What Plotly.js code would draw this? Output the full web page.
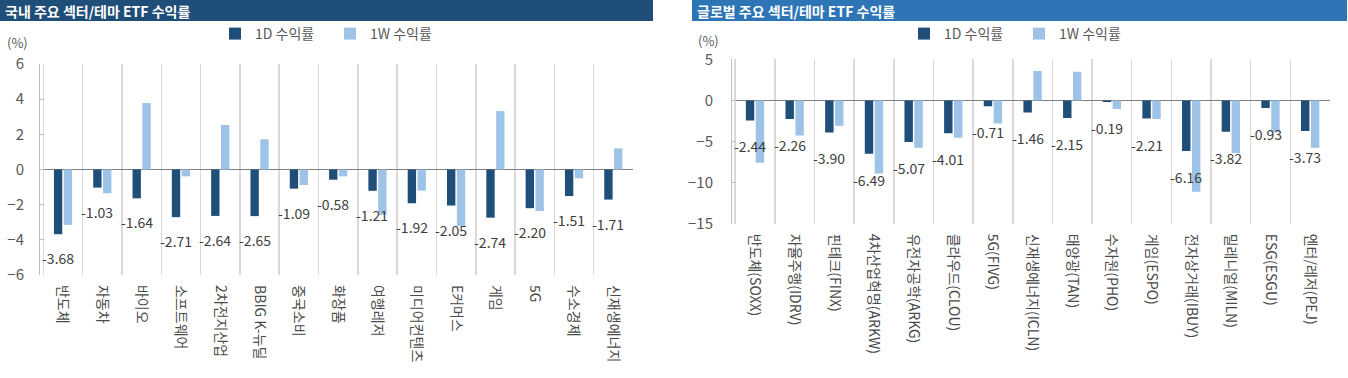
<!DOCTYPE html>
<html><head><meta charset="utf-8">
<script src="https://cdn.plot.ly/plotly-3.0.1.min.js"></script>
<style>html,body{margin:0;padding:0;background:#fff;} #chart{width:1348px;height:378px;}</style>
</head><body><div id="chart"></div>
<script>
// ---- data ----
const domCategories = ['반도체','자동차','바이오','소프트웨어','2차전지산업','BBIG K-뉴딜','중국소비','화장품','여행레저','미디어컨텐츠','E커머스','게임','5G','수소경제','신재생에너지'];
const dom1D = [-3.68,-1.03,-1.64,-2.71,-2.64,-2.65,-1.09,-0.58,-1.21,-1.92,-2.05,-2.74,-2.20,-1.51,-1.71];
const dom1W = [-3.15,-1.35,3.78,-0.39,2.53,1.72,-0.88,-0.39,-2.58,-1.20,-3.21,3.32,-2.36,-0.50,1.20];

const globCategories = ['반도체(SOXX)','자율주행(IDRV)','핀테크(FINX)','4차산업혁명(ARKW)','유전자공학(ARKG)','클라우드(CLOU)','5G(FIVG)','신재생에너지(ICLN)','태양광(TAN)','수자원(PHO)','게임(ESPO)','전자상거래(IBUY)','밀레니얼(MILN)','ESG(ESGU)','엔터/레저(PEJ)'];
const glob1D = [-2.44,-2.26,-3.90,-6.49,-5.07,-4.01,-0.71,-1.46,-2.15,-0.19,-2.21,-6.16,-3.82,-0.93,-3.73];
const glob1W = [-7.60,-4.26,-3.08,-8.90,-5.76,-4.54,-2.80,3.57,3.49,-1.06,-2.27,-11.10,-6.40,-3.90,-5.75];

const seriesNames = ['1D 수익률','1W 수익률'];
const titles = ['국내 주요 섹터/테마 ETF 수익률','글로벌 주요 섹터/테마 ETF 수익률'];
const unitLabel = '(%)';

// ---- layout helpers ----
const W = 1348, H = 378;
const px = x => x / W;
const py = y => 1 - y / H;
const NUMFONT = '"Liberation Sans Narrow", "Noto Sans CJK KR", sans-serif';
const KFONT = '"Noto Sans CJK KR", sans-serif';
const C1 = '#1F4E79', C2 = '#9DC3E6';
const GRAY = '#595959';

const traces = [
  {type:'bar', x:domCategories, y:dom1D, name:seriesNames[0], marker:{color:C1}, xaxis:'x', yaxis:'y', legend:'legend'},
  {type:'bar', x:domCategories, y:dom1W, name:seriesNames[1], marker:{color:C2}, xaxis:'x', yaxis:'y', legend:'legend'},
  {type:'bar', x:globCategories, y:glob1D, name:seriesNames[0], marker:{color:C1}, xaxis:'x2', yaxis:'y2', legend:'legend2'},
  {type:'bar', x:globCategories, y:glob1W, name:seriesNames[1], marker:{color:C2}, xaxis:'x2', yaxis:'y2', legend:'legend2'}
];

const xCommon = {type:'category', tickson:'boundaries', showgrid:true, gridcolor:'#D9D9D9', gridwidth:1.5,
  ticks:'', tickangle:90, tickfont:{family:NUMFONT, size:14, color:'#4A4A4A'}, showline:false, zeroline:false,
  fixedrange:true, automargin:false, ticklabelstandoff:9};
const yCommon = {showline:true, linecolor:'#BFBFBF', linewidth:1, ticks:'inside', ticklen:4, tickcolor:'#BFBFBF',
  showgrid:false, zeroline:true, zerolinecolor:'#808080', zerolinewidth:1.5,
  tickfont:{family:NUMFONT, size:15, color:GRAY}, fixedrange:true, automargin:false};

const annotations = [];
domCategories.forEach((c, i) => annotations.push({x:c, y:dom1D[i], xref:'x', yref:'y', text:dom1D[i].toFixed(2),
  showarrow:false, xshift:-5, yshift:-24, font:{family:NUMFONT, size:14, color:'#404040'}}));
globCategories.forEach((c, i) => annotations.push({x:c, y:glob1D[i], xref:'x2', yref:'y2', text:glob1D[i].toFixed(2),
  showarrow:false, xshift:-5, yshift:-26, font:{family:NUMFONT, size:14, color:'#404040'}}));

annotations.push({xref:'paper', yref:'paper', x:px(3), y:py(10.5), xanchor:'left', yanchor:'middle', showarrow:false,
  text:'<b>'+titles[0]+'</b>', font:{family:KFONT, size:14, color:'#FFFFFF'}});
annotations.push({xref:'paper', yref:'paper', x:px(695), y:py(10.5), xanchor:'left', yanchor:'middle', showarrow:false,
  text:'<b>'+titles[1]+'</b>', font:{family:KFONT, size:14, color:'#FFFFFF'}});
annotations.push({xref:'paper', yref:'paper', x:px(5), y:py(42), xanchor:'left', yanchor:'middle', showarrow:false,
  text:unitLabel, font:{family:KFONT, size:13, color:GRAY}});
annotations.push({xref:'paper', yref:'paper', x:px(696), y:py(40), xanchor:'left', yanchor:'middle', showarrow:false,
  text:unitLabel, font:{family:KFONT, size:13, color:GRAY}});

const legendCommon = {orientation:'h', xanchor:'center', yanchor:'middle', y:py(34),
  font:{family:KFONT, size:14, color:GRAY}, itemwidth:30, entrywidth:70, bgcolor:'rgba(0,0,0,0)', traceorder:'normal'};

const layout = {
  width:W, height:H, margin:{l:0, r:0, t:0, b:0},
  paper_bgcolor:'#FFFFFF', plot_bgcolor:'#FFFFFF',
  barmode:'group', bargap:0.5, bargroupgap:0.15,
  showlegend:true,
  legend:Object.assign({}, legendCommon, {x:px(330)}),
  legend2:Object.assign({}, legendCommon, {x:px(1019)}),
  xaxis:Object.assign({}, xCommon, {domain:[px(40), px(633)], anchor:'y'}),
  xaxis2:Object.assign({}, xCommon, {domain:[px(732), px(1330)], anchor:'y2'}),
  yaxis:Object.assign({}, yCommon, {domain:[py(275), py(64)], range:[-6, 6], dtick:2, anchor:'x', ticklabelstandoff:12}),
  yaxis2:Object.assign({}, yCommon, {domain:[py(223.7), py(59.3)], range:[-15, 5], dtick:5, anchor:'x2', ticklabelstandoff:15}),
  shapes:[
    {type:'rect', xref:'paper', yref:'paper', x0:0, x1:px(653), y0:py(21), y1:1, fillcolor:'#1F4E79', line:{width:0}, layer:'below'},
    {type:'rect', xref:'paper', yref:'paper', x0:px(692), x1:px(1347), y0:py(21), y1:1, fillcolor:'#2E75B6', line:{width:0}, layer:'below'}
  ],
  annotations:annotations,
  hovermode:false
};

Plotly.newPlot('chart', traces, layout, {staticPlot:true, displayModeBar:false});
</script>
</body></html>
